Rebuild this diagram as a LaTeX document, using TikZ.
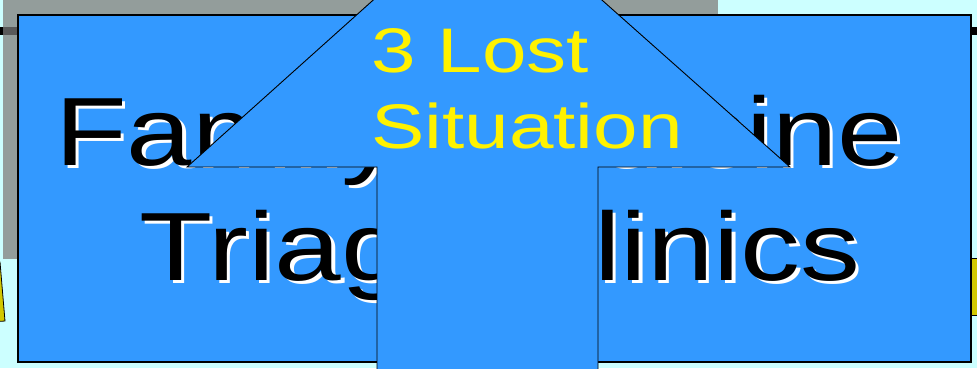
\documentclass[tikz,border=0pt]{standalone}
\usepackage{xcolor}
\usepackage{fontspec}
\usepackage{tikz}
\usetikzlibrary{positioning, calc}
\newfontfamily\slidefont[FakeStretch=1.21]{Liberation Sans}
\newfontfamily\slidefontwide[FakeStretch=1.235]{Liberation Sans}
\newfontfamily\arrowfont[FakeStretch=1.27]{Liberation Sans}
\definecolor{slidebg}{HTML}{CCFFFF}
\definecolor{slidegray}{HTML}{939D9B}
\definecolor{slideblue}{HTML}{3399FF}
\definecolor{slideyellow}{HTML}{D2C800}
\newcommand{\shadowtxt}[1]{\rlap{\kern3.5pt\raisebox{-3.5pt}{\color{white}#1}}#1}

\begin{document}
\begin{tikzpicture}[x=1pt, y=-1pt,
        every node/.style={inner sep=0pt, font=\slidefont},
        clinic/.style={anchor=base, text=black, font=\slidefont\fontsize{97}{115}\selectfont},
        lost/.style={anchor=base west, text=yellow, font=\arrowfont\fontsize{63}{76}\selectfont},
        uparrow/.style={draw=black, line width=0.9pt, fill=slideblue, line join=miter}
    ]
    \useasboundingbox (0,0) rectangle (977,368);
    \clip (0,0) rectangle (977,368);
    \fill[slidebg] (0,0) rectangle (977,368);
    % rule and grey panel behind
    \fill[black] (0,27) rectangle (977,35);
    \fill[slidegray] (3,-5) rectangle (718,259);
    \fill[black!65] (3,27) rectangle (20,35);
    % yellow bits at the edges
    \draw[fill=slideyellow, line width=0.8pt] (-10,262) -- (0,262) -- (5,321) -- (-10,322) -- cycle;
    \draw[fill=slideyellow, line width=0.8pt] (971,258) rectangle (990,315);
    % blue box
    \draw[fill=slideblue, line width=1.3pt] (18,15) rectangle (971,362);
    \node[clinic] (famline) at (479,165) {\shadowtxt{Family Medicine}};
    \node[clinic, font=\slidefontwide\fontsize{97}{115}\selectfont] (triline) at (500,280) {\shadowtxt{Triage Clinics}};
    % big arrow
    \draw[uparrow] (377,380) -- (377,167) -- (187,167) -- (487,-102)
        -- (790,167) -- (598,167) -- (598,380) -- cycle;
    \node[lost] (lostnum) at (371,72) {3 Lost};
    \node[lost] (lostsit) at (371,148) {Situation};
\end{tikzpicture}
\end{document}
